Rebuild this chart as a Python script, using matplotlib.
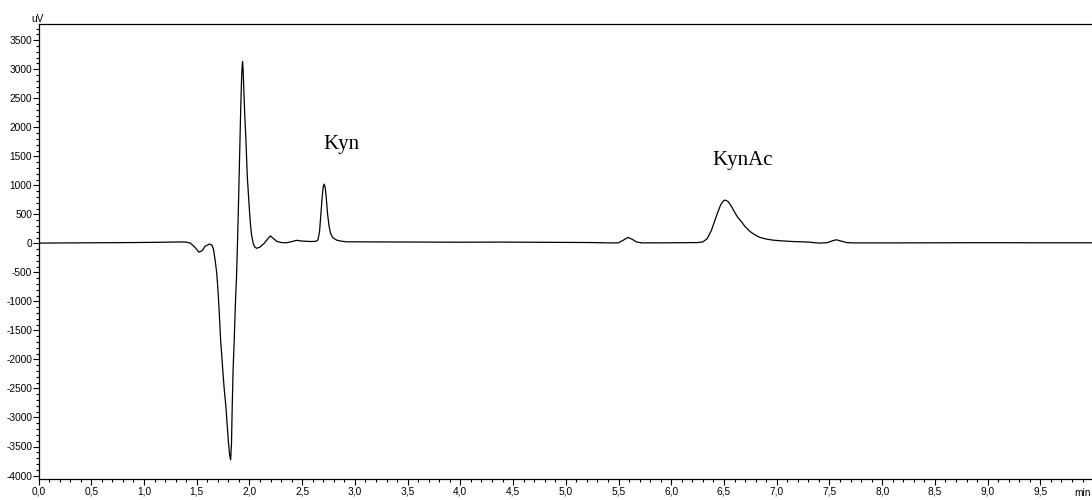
import matplotlib
matplotlib.use("Agg")
import matplotlib.pyplot as plt
from matplotlib.ticker import MultipleLocator, FuncFormatter

# retention time (min) and detector signal (uV)
time_min = [0.00, 0.30, 0.60, 0.90, 1.20, 1.35, 1.40, 1.44, 1.48, 1.52,
            1.55, 1.58, 1.62, 1.645, 1.66, 1.675, 1.69, 1.70, 1.71, 1.727,
            1.74, 1.75, 1.763, 1.777, 1.79, 1.80, 1.812, 1.822, 1.83, 1.837,
            1.845, 1.856, 1.868, 1.879, 1.886, 1.898, 1.91, 1.918, 1.925, 1.93,
            1.935, 1.94, 1.945, 1.955, 1.967, 1.98, 1.998, 2.01, 2.02, 2.036,
            2.05, 2.068, 2.10, 2.14, 2.175, 2.20, 2.23, 2.26, 2.30, 2.35,
            2.40, 2.447, 2.50, 2.58, 2.63, 2.65, 2.665, 2.678, 2.69, 2.70,
            2.709, 2.72, 2.73, 2.741, 2.755, 2.77, 2.79, 2.826, 2.87, 2.92,
            3.20, 3.60, 4.00, 4.40, 4.80, 5.20, 5.45, 5.50, 5.55, 5.59,
            5.63, 5.67, 5.72, 6.00, 6.25, 6.30, 6.34, 6.38, 6.41, 6.44,
            6.47, 6.50, 6.514, 6.54, 6.57, 6.60, 6.63, 6.665, 6.70, 6.75,
            6.80, 6.84, 6.90, 6.96, 7.03, 7.15, 7.31, 7.36, 7.42, 7.48,
            7.53, 7.566, 7.61, 7.66, 7.72, 8.00, 8.50, 9.00, 9.50, 10.00]
signal_uv = [5, 8, 10, 14, 20, 25, 22, 5, -60, -150,
             -130, -50, -12, -30, -110, -290, -510, -760, -1050, -1664,
             -2000, -2250, -2550, -2812, -3150, -3400, -3640, -3730, -3450, -2812,
             -2200, -1664, -1000, -511, -60, 800, 1778, 2350, 2800, 3020,
             3130, 3000, 2750, 2250, 1778, 1150, 630, 330, 150, 0,
             -60, -85, -65, 0, 80, 128, 80, 35, 15, 10,
             30, 52, 40, 32, 36, 60, 200, 510, 800, 980,
             1020, 950, 760, 510, 300, 170, 100, 57, 38, 27,
             25, 22, 20, 22, 18, 15, 8, 10, 60, 103,
             70, 25, 8, 10, 14, 25, 80, 220, 375, 530,
             670, 740, 745, 720, 640, 540, 450, 375, 290, 200,
             140, 103, 75, 57, 45, 32, 22, 10, 5, 12,
             45, 62, 40, 15, 8, 8, 10, 12, 10, 10]

peak_labels = ["Kyn", "KynAc"]
peak_label_x = [2.70, 6.39]
peak_label_y = [1620, 1350]

fig = plt.figure(figsize=(10.92, 5.0), dpi=100)
ax = fig.add_axes([38.5 / 1092, 21 / 500, 1053.5 / 1092, 455 / 500])

ax.plot(time_min, signal_uv, color="black", lw=0.9)

for name, tx, ty in zip(peak_labels, peak_label_x, peak_label_y):
    ax.text(tx, ty, name, fontsize=15, family="Liberation Serif",
            ha="left", va="baseline")

ax.set_xlim(0, 9.99)
ax.set_ylim(-4060, 3780)

ax.xaxis.set_major_locator(MultipleLocator(0.5))
ax.xaxis.set_minor_locator(MultipleLocator(0.1))
ax.yaxis.set_major_locator(MultipleLocator(500))
ax.yaxis.set_minor_locator(MultipleLocator(100))
ax.xaxis.set_major_formatter(FuncFormatter(lambda v, p: f"{v:.1f}".replace(".", ",")))
ax.yaxis.set_major_formatter(FuncFormatter(lambda v, p: f"{v:.0f}"))

ax.tick_params(axis="both", which="major", length=4, width=0.8,
               labelsize=7.3, direction="out")
ax.tick_params(axis="both", which="minor", length=2.2, width=0.8, direction="out")
ax.tick_params(axis="y", which="major", pad=0.5)
ax.tick_params(axis="x", which="major", pad=1.5)
for lab in ax.get_xticklabels() + ax.get_yticklabels():
    lab.set_family("Liberation Sans")

ax.spines["right"].set_visible(False)
for s in ["left", "bottom", "top"]:
    ax.spines[s].set_linewidth(0.9)

fig.text(38 / 1092, 1 - 19 / 500, "uV", fontsize=7.3, family="Liberation Sans",
         ha="center", va="center")
fig.text(1091 / 1092, 1 - 493 / 500, "min", fontsize=7.3, family="Liberation Sans",
         ha="right", va="center")

fig.savefig("out.png", dpi=100)
